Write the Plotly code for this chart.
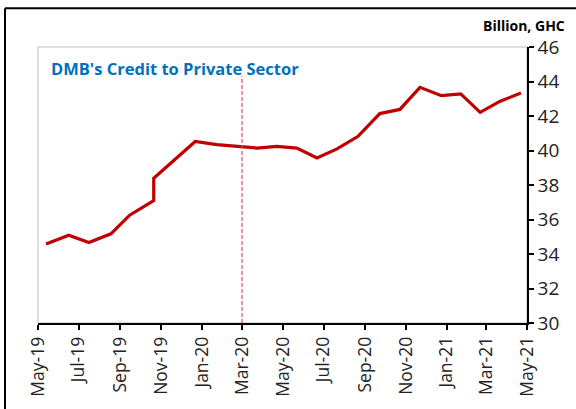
import plotly.graph_objects as go

# Data
dates = ["2019-05-13", "2019-06-16", "2019-07-16", "2019-08-18", "2019-09-15",
         "2019-10-21", "2019-10-21", "2019-11-21", "2019-12-22",
         "2020-01-23", "2020-02-22", "2020-03-24", "2020-04-22", "2020-05-22",
         "2020-06-21", "2020-07-21", "2020-08-21", "2020-09-23", "2020-10-23",
         "2020-11-22", "2020-12-24", "2021-01-22", "2021-02-20", "2021-03-22",
         "2021-04-22"]
credit = [34.58, 35.09, 34.67, 35.17, 36.25,
          37.10, 38.39, 39.46, 40.52,
          40.34, 40.23, 40.14, 40.24, 40.14,
          39.57, 40.09, 40.81, 42.14, 42.38,
          43.66, 43.18, 43.28, 42.21, 42.86,
          43.33]

tick_dates = ["2019-05-01", "2019-07-01", "2019-09-01", "2019-11-01", "2020-01-01",
              "2020-03-01", "2020-05-01", "2020-07-01", "2020-09-01", "2020-11-01",
              "2021-01-01", "2021-03-01", "2021-05-01"]
tick_labels = ["May-19", "Jul-19", "Sep-19", "Nov-19", "Jan-20", "Mar-20", "May-20",
               "Jul-20", "Sep-20", "Nov-20", "Jan-21", "Mar-21", "May-21"]

marker_date = "2020-03-01"
marker_top = 44.3

W, H = 576, 409
L, R, T, B = 38, 49, 46.5, 81
pw, ph = W - L - R, H - T - B

def px(xp):
    return (xp - L) / pw

def py(yp):
    return 1 - (yp - T) / ph

FONT = "Open Sans"

fig = go.Figure()
fig.add_trace(go.Scatter(x=dates, y=credit, mode="lines",
                         line=dict(color="#C00000", width=3.2),
                         hoverinfo="skip", showlegend=False))

fig.update_layout(
    width=W, height=H,
    margin=dict(l=L, r=R, t=T, b=B, pad=0),
    paper_bgcolor="white", plot_bgcolor="white",
    font=dict(family=FONT, color="#222222"),
    xaxis=dict(type="date", range=["2019-05-01", "2021-05-01"],
               tickvals=tick_dates, ticktext=tick_labels, tickangle=-90,
               ticks="outside", ticklen=5, tickwidth=1.5, tickcolor="black",
               showline=True, linecolor="black", linewidth=1.5,
               showgrid=False, zeroline=False,
               tickfont=dict(size=17.5, family=FONT, color="#222222")),
    yaxis=dict(range=[30, 46], dtick=2, side="right",
               ticks="outside", ticklen=5, tickwidth=1.5, tickcolor="black",
               showline=True, linecolor="black", linewidth=1.5,
               showgrid=False, zeroline=False,
               tickfont=dict(size=19, family=FONT, color="#222222")),
    shapes=[
        # light grey plot border (left/top)
        dict(type="rect", xref="paper", yref="paper", x0=0, x1=1, y0=0, y1=1,
             line=dict(color="#d4d4d4", width=1.5), layer="below"),
        # marker line
        dict(type="line", xref="x", yref="y", x0=marker_date, x1=marker_date,
             y0=30, y1=marker_top, line=dict(color="#e05050", width=1.2, dash="4px,2px")),
        # outer frame (left and top)
        dict(type="line", xref="paper", yref="paper", x0=px(5), x1=px(5),
             y0=py(420), y1=py(7), line=dict(color="black", width=2)),
        dict(type="line", xref="paper", yref="paper", x0=px(5), x1=px(590),
             y0=py(7), y1=py(7), line=dict(color="black", width=2)),
    ],
    annotations=[
        dict(text="<b>DMB's Credit to Private Sector</b>", xref="paper", yref="paper",
             x=px(49), y=py(68), xanchor="left", yanchor="middle", showarrow=False,
             font=dict(size=16.5, family=FONT, color="#0070C0")),
        dict(text="<b>Billion, GHC</b>", xref="paper", yref="paper",
             x=px(567), y=py(25), xanchor="right", yanchor="middle", showarrow=False,
             font=dict(size=14, family=FONT, color="black")),
    ],
)

fig.write_html("out.html", config={"displayModeBar": False},
               post_script="document.body.style.margin='0';document.body.style.overflow='hidden';")
